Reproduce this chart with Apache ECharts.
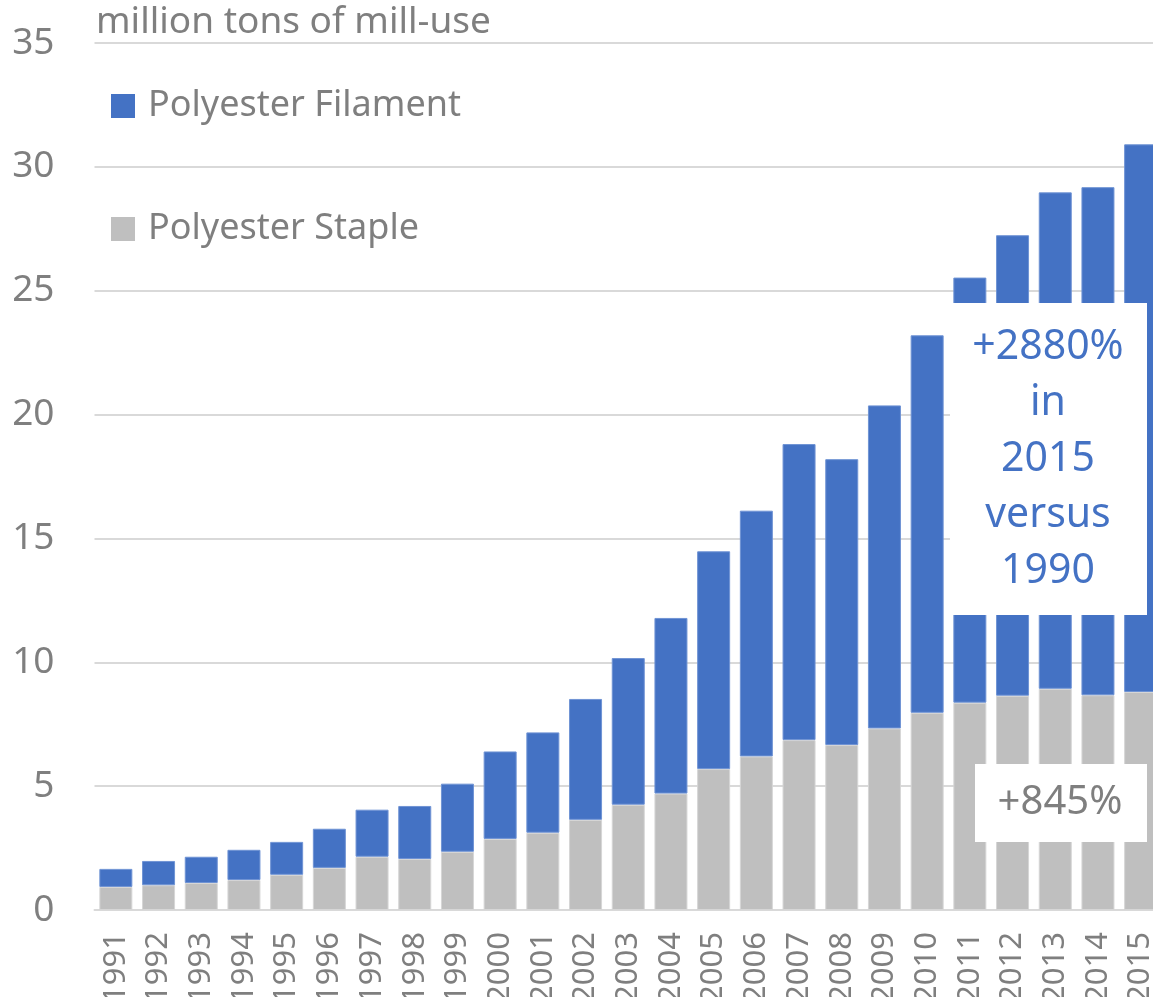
<!DOCTYPE html>
<html>
<head>
<meta charset="utf-8">
<script src="https://cdn.jsdelivr.net/npm/echarts@6/dist/echarts.min.js"></script>
<style>
html,body{margin:0;padding:0;background:#fff;}
#main{width:1153px;height:997px;}
</style>
</head>
<body>
<div id="main"></div>
<script>
// years on the x axis
var years = ['1991','1992','1993','1994','1995','1996','1997','1998','1999','2000',
    '2001','2002','2003','2004','2005','2006','2007','2008','2009','2010',
    '2011','2012','2013','2014','2015'];
// staple (bottom part), million tons
var staple = [0.93,1.0,1.09,1.21,1.42,1.7,2.15,2.06,2.35,2.87,
    3.12,3.64,4.25,4.7,5.69,6.2,6.86,6.66,7.33,7.96,
    8.37,8.65,8.93,8.67,8.8];
// filament (top part), million tons
var filament = [0.73,0.98,1.06,1.22,1.33,1.58,1.9,2.14,2.75,3.53,
    4.05,4.88,5.92,7.09,8.79,9.92,11.95,11.54,13.04,15.24,
    17.16,18.59,20.04,20.51,22.11];
var yTicks = [0,5,10,15,20,25,30,35];

var gray = '#7f7f7f';
var font = 'Noto Sans';

var chart = echarts.init(document.getElementById('main'));
var option = {
    backgroundColor: '#fff',
    animation: false,
    textStyle: {fontFamily: font},
    title: {
        text: 'million tons of mill-use',
        left: 96,
        top: 4,
        padding: 0,
        textStyle: {color: gray, fontSize: 37, fontWeight: 'normal', fontFamily: font}
    },
    legend: {
        data: ['Polyester Filament','Polyester Staple'],
        orient: 'vertical',
        left: 111,
        top: 88,
        padding: 0,
        itemWidth: 24,
        itemHeight: 24,
        itemGap: 87,
        icon: 'rect',
        itemStyle: {borderWidth: 0},
        textStyle: {color: gray, fontSize: 36, padding: [0,0,0,8], fontFamily: font}
    },
    grid: {
        left: 94.5,
        width: 1067.5,
        top: 43,
        bottom: 87,
        outerBoundsMode: 'none',
        containLabel: false
    },
    xAxis: {
        type: 'category',
        data: years,
        axisLine: {lineStyle: {color: '#d9d9d9', width: 2}},
        axisTick: {show: false},
        axisLabel: {rotate: 90, color: gray, fontSize: 31, margin: 22, interval: 0, fontFamily: font}
    },
    yAxis: {
        type: 'value',
        min: yTicks[0],
        max: yTicks[yTicks.length - 1],
        interval: 5,
        axisLine: {show: false},
        axisTick: {show: false},
        splitLine: {lineStyle: {color: '#d9d9d9', width: 2}},
        axisLabel: {color: gray, fontSize: 37, margin: 40, fontFamily: font}
    },
    series: [{
        name: 'Polyester Staple',
        type: 'bar',
        stack: 'total',
        data: staple,
        barWidth: 33,
        itemStyle: {color: '#bfbfbf', borderColor: '#d6d6d6', borderWidth: 1}
    }, {
        name: 'Polyester Filament',
        type: 'bar',
        stack: 'total',
        data: filament,
        barWidth: 33,
        itemStyle: {color: '#4472c4', borderColor: '#6f93d4', borderWidth: 1}
    }],
    graphic: [{
        type: 'rect',
        shape: {x: 950, y: 303, width: 197, height: 312},
        style: {fill: '#fff'},
        z: 100
    }, {
        type: 'text',
        x: 1048,
        y: 459,
        style: {
            text: '+2880%\nin\n2015\nversus\n1990',
            fill: '#4472c4',
            font: '41px "Noto Sans"',
            lineHeight: 56,
            align: 'center',
            verticalAlign: 'middle'
        },
        z: 101
    }, {
        type: 'rect',
        shape: {x: 975, y: 764, width: 172, height: 78},
        style: {fill: '#fff'},
        z: 100
    }, {
        type: 'text',
        x: 1060,
        y: 803,
        style: {
            text: '+845%',
            fill: gray,
            font: '40px "Noto Sans"',
            align: 'center',
            verticalAlign: 'middle'
        },
        z: 101
    }]
};
chart.setOption(option);
</script>
</body>
</html>
